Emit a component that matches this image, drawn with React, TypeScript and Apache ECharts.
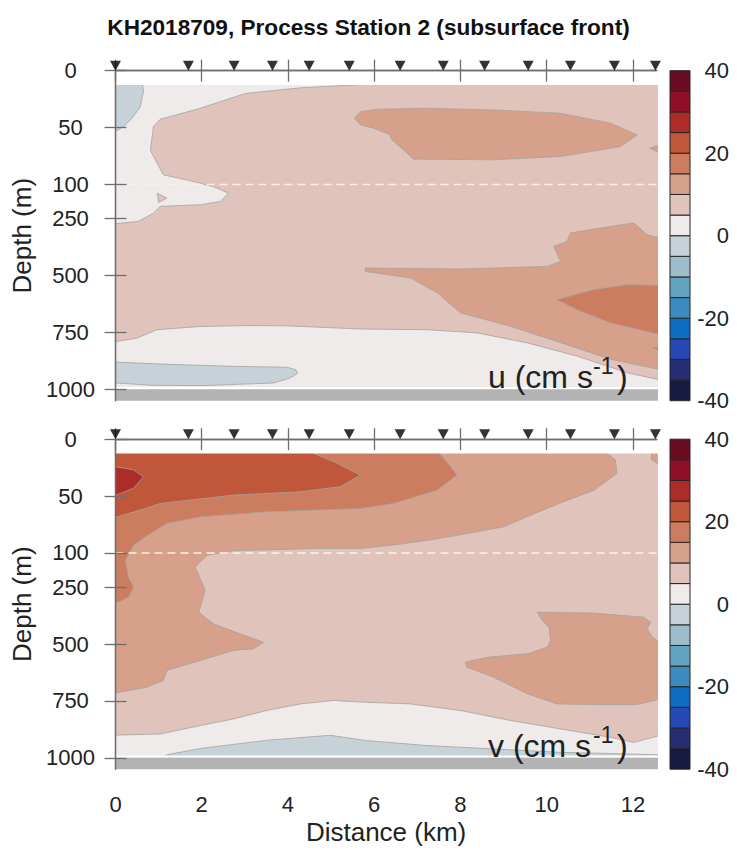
import React, { useEffect, useRef } from "react";
import * as echarts from "echarts";

// ---------------- data ----------------
const TITLE = "KH2018709, Process Station 2 (subsurface front)";
const DIST_TICKS = [0, 2, 4, 6, 8, 10, 12];
const DIST_MAX = 12.55;
const DEPTH_TICKS = [0, 50, 100, 250, 500, 750, 1000];
const DEPTH_AXIS_MAX = 1050;
const DATA_TOP = 12.5;
const DATA_BOTTOM = 990;
const SEAFLOOR = 1000;
const REF_DEPTH = 100;
const STATIONS = [0, 1.69, 2.75, 3.64, 4.49, 5.42, 6.6, 7.6, 8.56, 9.57, 10.55, 11.57, 12.52];

const CB_MIN = -40;
const CB_MAX = 40;
const CB_STEP = 5;
const CB_TICKS = [-40, -20, 0, 20, 40];
const LEVEL_COLORS = [
  "#161b44", "#252e72", "#2747b3", "#0f6cc3", "#3a8cbf", "#65a4c0", "#9cbdc9", "#c6d2d7",
  "#efebea", "#e0c4bb", "#d6a08b", "#cc7c5f", "#c0573a", "#ae2c27", "#8e0f27", "#6a0d22",
];

// u (cm/s): contour bands, [distance km, depth m]
const U_BASE_LO = 0;
const U_POS5_MAIN = [
  [5.6, 5], [12.8, 5], [12.8, 966], [11.87, 927], [10.7, 854], [9.55, 796], [8.39, 752],
  [7.22, 738], [5.68, 735], [3.98, 721], [3.05, 720], [1.97, 724], [0.96, 738], [0.5, 775],
  [-0.3, 800], [-0.3, 278], [0.53, 262], [0.88, 226], [1.04, 196], [1.97, 189], [2.43, 175],
  [2.62, 138], [2.27, 109], [1.66, 96], [1.11, 91.5], [0.96, 81], [0.81, 70], [0.88, 49],
  [1.04, 42.6], [1.97, 33], [3.01, 20], [4.3, 15], [5.56, 12.5],
];
const U_POS5_ISLAND = [[0.97, 138], [1.19, 160], [1.0, 179]];
const U_NEG5_TOP = [[-0.3, 5], [0.6, 5], [0.65, 18], [0.57, 32], [0.38, 42], [0.19, 49], [-0.3, 60]];
const U_NEG5_BOTTOM = [
  [-0.3, 878], [1.19, 890], [2.74, 899], [3.98, 903], [4.18, 914], [4.22, 930], [4.05, 950],
  [3.67, 972], [2.0, 984], [0.8, 982], [-0.3, 968],
];
const U_POS10_UPPER = [
  [5.54, 41.8], [5.68, 36], [6.06, 33.9], [7.22, 33], [8.77, 34.5], [10.32, 37.4], [11.48, 46.1],
  [12.1, 56.4], [11.71, 66.7], [10.32, 75.4], [8.77, 78.3], [6.91, 77.7], [6.68, 69.6], [6.41, 60.8],
  [6.37, 56.4], [5.99, 50.5], [5.68, 47.6],
];
const U_POS10_EDGE = [[12.8, 63], [12.39, 68], [12.8, 76]];
const U_POS10_LOWER = [
  [5.79, 467], [8.0, 471], [10.01, 460], [10.32, 438], [10.16, 372], [10.47, 350], [10.55, 313],
  [11.09, 296], [12.02, 269], [12.33, 321], [12.8, 343], [12.8, 920], [11.48, 868], [10.32, 795],
  [9.16, 723], [8.0, 664], [7.46, 576], [6.84, 511], [5.79, 482],
];
const U_POS15_CORE = [
  [10.24, 606], [11.09, 562], [11.87, 540], [12.8, 544], [12.8, 767], [11.48, 708], [10.7, 650],
];
const U_POS15_EDGE = [[12.8, 808], [12.45, 818], [12.8, 842]];

// v (cm/s)
const V_BASE_LO = 5;
const V_POS0_BAND = [
  [-0.3, 902], [1.04, 895], [1.97, 858], [2.74, 829], [3.51, 792], [4.29, 763], [5.06, 748],
  [5.68, 755], [6.84, 763], [8.0, 792], [9.16, 836], [10.32, 873], [11.48, 910], [12.02, 932],
  [12.8, 893], [12.8, 995], [-0.3, 995],
];
const V_NEG5 = [
  [1.11, 995], [1.2, 986], [1.97, 959], [3.51, 923], [4.98, 901], [5.8, 924], [7.22, 946],
  [8.77, 961], [10.32, 976], [11.87, 983], [12.8, 988], [12.8, 995],
];
const V_POS10_MAIN = [
  [-0.3, 5], [11.4, 5], [11.4, 12.5], [11.59, 18], [11.63, 30], [11.09, 45], [10.32, 56],
  [9.55, 68], [9.0, 77], [8.0, 84], [7.22, 89], [6.45, 93], [5.68, 96], [4.75, 96], [2.74, 98],
  [2.12, 110], [1.85, 162], [2.08, 264], [1.93, 360], [2.27, 411], [2.89, 455], [3.43, 492],
  [3.2, 521], [2.74, 528], [1.97, 572], [1.19, 616], [1.11, 660], [0.73, 690], [-0.3, 725],
];
const V_POS10_BLOB = [
  [9.78, 360], [11.09, 364], [12.25, 382], [12.41, 404], [12.33, 433], [12.45, 470], [12.8, 514],
  [12.8, 734], [12.1, 766], [11.09, 766], [10.24, 763], [9.55, 719], [8.77, 646], [8.15, 602],
  [8.11, 580], [8.62, 558], [9.55, 543], [10.01, 514], [10.09, 484], [10.05, 426], [9.89, 396],
];
const V_POS10_EDGE = [[12.8, 5], [12.45, 5], [12.42, 18], [12.8, 26]];
const V_POS15 = [
  [-0.3, 5], [7.53, 5], [7.53, 13], [7.92, 31.5], [7.46, 44.7], [6.45, 56.4], [5.68, 60.8],
  [3.51, 63.8], [1.97, 68.2], [1.19, 74], [0.81, 82.8], [0.42, 93.2], [0.23, 132], [0.3, 206],
  [0.42, 250], [0.3, 294], [-0.3, 350],
];
const V_POS20 = [
  [-0.3, 5], [4.6, 5], [4.6, 12.5], [5.06, 19.8], [5.68, 31.5], [5.21, 41.8], [4.29, 46.2],
  [2.74, 49.1], [1.04, 56.4], [0.57, 62.3], [-0.3, 72],
];
const V_POS25 = [[-0.3, 22], [0.42, 27], [0.65, 33], [0.42, 43], [-0.3, 54]];

const U_CONTOURS = [
  { lo: 5, pts: U_POS5_MAIN },
  { lo: 5, pts: U_POS5_ISLAND },
  { lo: -5, pts: U_NEG5_TOP },
  { lo: -5, pts: U_NEG5_BOTTOM },
  { lo: 10, pts: U_POS10_UPPER },
  { lo: 10, pts: U_POS10_EDGE },
  { lo: 10, pts: U_POS10_LOWER },
  { lo: 15, pts: U_POS15_CORE },
  { lo: 15, pts: U_POS15_EDGE },
];
const V_CONTOURS = [
  { lo: 0, pts: V_POS0_BAND },
  { lo: -5, pts: V_NEG5 },
  { lo: 10, pts: V_POS10_MAIN },
  { lo: 10, pts: V_POS10_BLOB },
  { lo: 10, pts: V_POS10_EDGE },
  { lo: 15, pts: V_POS15 },
  { lo: 20, pts: V_POS20 },
  { lo: 25, pts: V_POS25 },
];

// ---------------- helpers ----------------
const FONT = '"Liberation Sans", Arial, Helvetica, sans-serif';
const AXIS_COLOR = "#6e6e6e";
const TEXT_COLOR = "#222";
const CONTOUR_LINE = "#a6a2a0";

// depth scale: 0-100 m stretched, 100-1000 m compressed
const tf = (d: number) => (d <= 100 ? d / 50 : 2 + (d - 100) / 250);
const inv = (t: number) => (t <= 2 ? t * 50 : 100 + (t - 2) * 250);
const colorFor = (lo: number) => LEVEL_COLORS[Math.round((lo - CB_MIN) / CB_STEP)];

type Layer =
  | { kind: "poly"; lo: number; pts: number[][]; edge: boolean }
  | { kind: "rect"; d0: number; d1: number; fill: string };

function panelLayers(baseLo: number, contours: { lo: number; pts: number[][] }[]): Layer[] {
  const layers: Layer[] = [
    {
      kind: "poly",
      lo: baseLo,
      edge: false,
      pts: [[-1, 0], [14, 0], [14, SEAFLOOR], [-1, SEAFLOOR]],
    },
  ];
  contours.forEach((c) => layers.push({ kind: "poly", lo: c.lo, pts: c.pts, edge: true }));
  layers.push({ kind: "rect", d0: 0, d1: DATA_TOP, fill: "#ffffff" });
  layers.push({ kind: "rect", d0: DATA_BOTTOM, d1: SEAFLOOR, fill: "#ffffff" });
  layers.push({ kind: "rect", d0: SEAFLOOR, d1: DEPTH_AXIS_MAX + 50, fill: "#b3b3b3" });
  return layers;
}

function contourSeries(layers: Layer[], axisIdx: number) {
  return {
    type: "custom",
    xAxisIndex: axisIdx * 2,
    yAxisIndex: axisIdx * 2,
    clip: true,
    silent: true,
    z: 2,
    data: layers.map(() => [0, 0]),
    renderItem: (params: any, api: any) => {
      const item = layers[params.dataIndex];
      if (item.kind === "poly") {
        const points = item.pts.map(([x, d]) => api.coord([x, tf(d)]));
        return {
          type: "polygon",
          shape: { points },
          style: {
            fill: colorFor(item.lo),
            stroke: item.edge ? CONTOUR_LINE : null,
            lineWidth: item.edge ? 0.8 : 0,
          },
        };
      }
      const a = api.coord([-1, tf(item.d0)]);
      const b = api.coord([14, tf(item.d1)]);
      return {
        type: "rect",
        shape: { x: a[0], y: a[1], width: b[0] - a[0], height: b[1] - a[1] },
        style: { fill: item.fill },
      };
    },
  };
}

function buildOption() {
  const PLOT_LEFT = 115.5;
  const PLOT_W = 541.2;
  const PLOT_H = 330;
  const TOPS = [70.7, 439.2];
  const CB_LEFT = 670;
  const CB_W = 20;

  const grids: any[] = [];
  const xAxes: any[] = [];
  const yAxes: any[] = [];
  const series: any[] = [];

  const tickT = DEPTH_TICKS.map(tf);
  const axisLine = { show: true, lineStyle: { color: AXIS_COLOR, width: 1.3 } };
  const tickStyle = { color: AXIS_COLOR, width: 1.3 };

  [0, 1].forEach((p) => {
    grids.push({ left: PLOT_LEFT, top: TOPS[p], width: PLOT_W, height: PLOT_H });
    // bottom x axis
    xAxes.push({
      type: "value",
      gridIndex: p,
      position: "bottom",
      min: 0,
      max: DIST_MAX,
      interval: 2,
      z: 10,
      axisLine,
      axisTick: { show: true, length: 11, inside: false, lineStyle: tickStyle, customValues: DIST_TICKS },
      axisLabel: {
        show: p === 1,
        customValues: DIST_TICKS,
        margin: 24,
        fontSize: 22,
        fontFamily: FONT,
        color: TEXT_COLOR,
      },
      splitLine: { show: false },
      name: p === 1 ? "Distance (km)" : "",
      nameLocation: "middle",
      nameGap: 50,
      nameTextStyle: { fontSize: 26, fontFamily: FONT, color: TEXT_COLOR },
    });
    // top x axis
    xAxes.push({
      type: "value",
      gridIndex: p,
      position: "top",
      min: 0,
      max: DIST_MAX,
      interval: 2,
      z: 10,
      axisLine,
      axisTick: { show: true, length: 11, inside: false, lineStyle: tickStyle, customValues: DIST_TICKS },
      axisLabel: { show: false },
      splitLine: { show: false },
    });
    // left y axis
    yAxes.push({
      type: "value",
      gridIndex: p,
      position: "left",
      inverse: true,
      min: 0,
      max: tf(DEPTH_AXIS_MAX),
      z: 10,
      axisLine,
      axisTick: { show: true, length: 11, lineStyle: tickStyle, customValues: tickT },
      axisLabel: {
        customValues: tickT,
        formatter: (v: number) => String(Math.round(inv(v))),
        align: "center",
        margin: 45,
        fontSize: 22,
        fontFamily: FONT,
        color: TEXT_COLOR,
      },
      splitLine: { show: false },
      name: "Depth (m)",
      nameLocation: "middle",
      nameGap: 80,
      nameTextStyle: { fontSize: 26, fontFamily: FONT, color: TEXT_COLOR },
    });
    // right y axis
    yAxes.push({
      type: "value",
      gridIndex: p,
      position: "right",
      inverse: true,
      min: 0,
      max: tf(DEPTH_AXIS_MAX),
      z: 10,
      axisLine,
      axisTick: { show: true, length: 11, lineStyle: tickStyle, customValues: tickT },
      axisLabel: { show: false },
      splitLine: { show: false },
    });

    const layers = panelLayers(p === 0 ? U_BASE_LO : V_BASE_LO, p === 0 ? U_CONTOURS : V_CONTOURS);
    series.push(contourSeries(layers, p));
    series.push({
      type: "line",
      xAxisIndex: p * 2,
      yAxisIndex: p * 2,
      data: [[0, tf(REF_DEPTH)], [DIST_MAX, tf(REF_DEPTH)]],
      symbol: "none",
      silent: true,
      z: 5,
      lineStyle: { color: "#fbf3df", width: 1.6, type: [8, 5] },
    });
    series.push({
      type: "scatter",
      xAxisIndex: p * 2,
      yAxisIndex: p * 2,
      data: STATIONS.map((s) => [s, 0]),
      symbol: "path://M0,0L10,0L5,10Z",
      symbolSize: [11, 10],
      symbolOffset: [0, -5],
      itemStyle: { color: "#000" },
      clip: false,
      silent: true,
      z: 12,
    });
  });

  // colorbars
  [0, 1].forEach((p) => {
    grids.push({ left: CB_LEFT, top: TOPS[p], width: CB_W, height: PLOT_H });
    xAxes.push({
      type: "category",
      gridIndex: 2 + p,
      data: ["c"],
      show: false,
    });
    yAxes.push({
      type: "value",
      gridIndex: 2 + p,
      position: "right",
      min: CB_MIN,
      max: CB_MAX,
      interval: 20,
      axisLine: { show: false },
      axisTick: { show: false },
      splitLine: { show: false },
      axisLabel: {
        customValues: CB_TICKS,
        align: "right",
        margin: 39,
        fontSize: 22,
        fontFamily: FONT,
        color: TEXT_COLOR,
      },
    });
    series.push({
      type: "custom",
      xAxisIndex: 4 + p,
      yAxisIndex: 4 + p,
      silent: true,
      encode: { x: 0, y: [1, 2] },
      data: LEVEL_COLORS.map((_, i) => [0, CB_MIN + i * CB_STEP, CB_MIN + (i + 1) * CB_STEP]),
      renderItem: (params: any, api: any) => {
        const lo = api.value(1);
        const hi = api.value(2);
        const top = api.coord([0, hi]);
        const bot = api.coord([0, lo]);
        const w = api.size([1, 0])[0];
        return {
          type: "rect",
          shape: { x: top[0] - w / 2, y: top[1], width: w, height: bot[1] - top[1] },
          style: { fill: LEVEL_COLORS[params.dataIndex], stroke: "#262626", lineWidth: 1 },
        };
      },
    });
  });

  const labelText = (txt: string, sup: string, y: number) => [
    {
      type: "text",
      x: 488,
      y,
      silent: true,
      z: 20,
      style: { text: txt, font: `32px ${FONT}`, fill: TEXT_COLOR, align: "left", verticalAlign: "middle" },
    },
    {
      type: "text",
      x: 593,
      y: y - 11,
      silent: true,
      z: 20,
      style: { text: sup, font: `23px ${FONT}`, fill: TEXT_COLOR, align: "left", verticalAlign: "middle" },
    },
    {
      type: "text",
      x: 617,
      y,
      silent: true,
      z: 20,
      style: { text: ")", font: `32px ${FONT}`, fill: TEXT_COLOR, align: "left", verticalAlign: "middle" },
    },
  ];

  return {
    animation: false,
    backgroundColor: "#ffffff",
    title: {
      text: TITLE,
      left: "center",
      top: 11,
      textStyle: { fontSize: 22.6, fontWeight: "bold", fontFamily: FONT, color: "#111" },
    },
    grid: grids,
    xAxis: xAxes,
    yAxis: yAxes,
    series,
    graphic: [...labelText("u (cm s", "-1", 377), ...labelText("v (cm s", "-1", 746)],
  };
}

export default function App() {
  const ref = useRef<HTMLDivElement>(null);
  useEffect(() => {
    const chart = echarts.init(ref.current!, null, { renderer: "svg" });
    chart.setOption(buildOption() as any);
    return () => chart.dispose();
  }, []);
  return (
    <div
      ref={ref}
      style={{ position: "absolute", left: 0, top: 0, width: 737, height: 850, background: "#fff" }}
    />
  );
}
